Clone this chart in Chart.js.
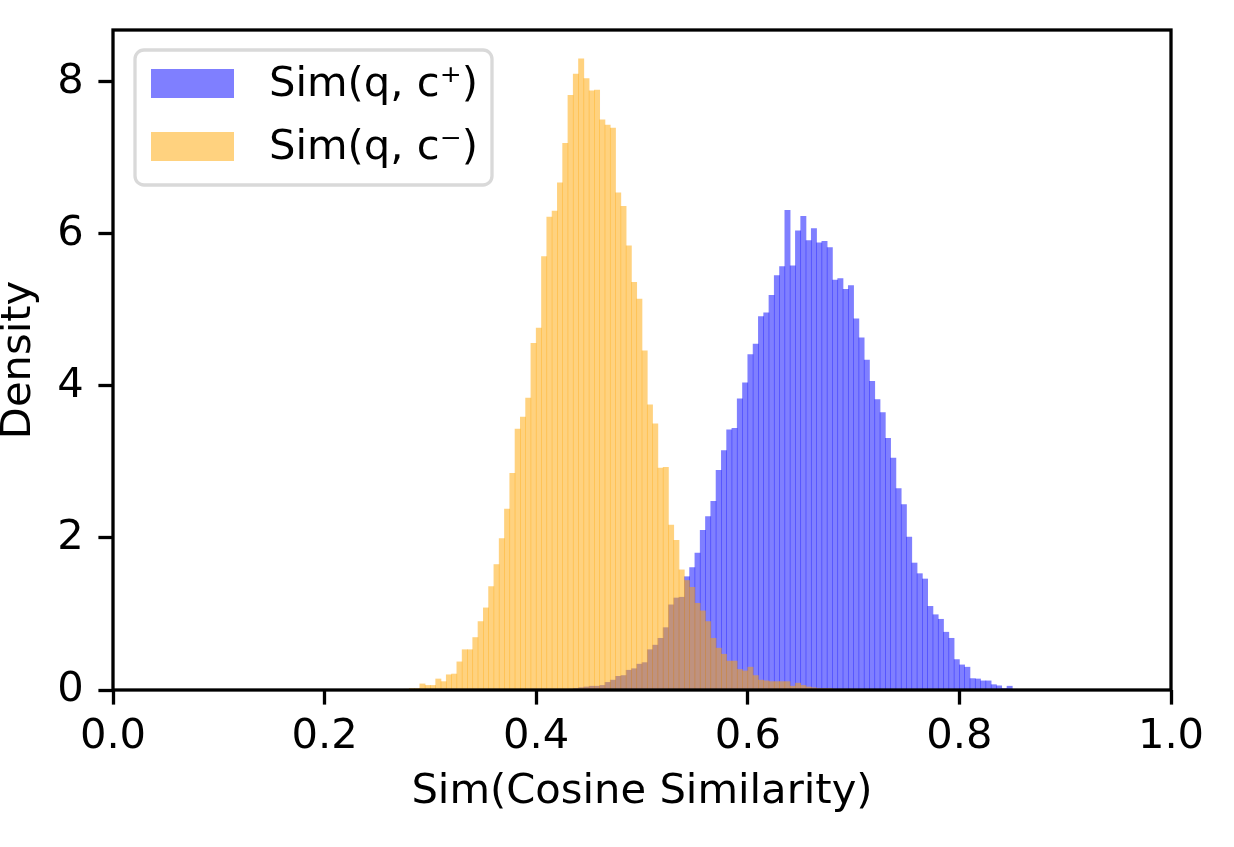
<!DOCTYPE html>
<html>
<head>
<meta charset="utf-8">
<script src="https://cdn.jsdelivr.net/npm/chart.js@4.4.0/dist/chart.umd.min.js"></script>
<style>
html, body { margin: 0; padding: 0; background: #fff; }
#wrap { width: 1234px; height: 847px; }
</style>
</head>
<body>
<div id="wrap"><canvas id="myChart"></canvas></div>
<script>
// histogram bins, width 0.005, heights
const binWidth = 0.005;

const posLabel = 'Sim(q, c\u207A)';
const posStart = 0.43;
const posDensity = [
  0.01, 0.02, 0.03, 0.04, 0.05, 0.05, 0.06, 0.10, 0.13, 0.18,
  0.19, 0.26, 0.28, 0.34, 0.36, 0.53, 0.59, 0.68, 0.82, 1.12,
  1.21, 1.22, 1.49, 1.61, 1.80, 2.10, 2.28, 2.48, 2.89, 3.15,
  3.42, 3.44, 3.83, 4.04, 4.41, 4.55, 4.91, 4.96, 5.19, 5.45,
  5.57, 6.31, 5.58, 6.04, 6.23, 5.91, 6.07, 5.88, 5.90, 5.82,
  5.39, 5.41, 5.27, 5.32, 4.88, 4.63, 4.34, 4.06, 3.82, 3.65,
  3.31, 3.05, 2.65, 2.44, 2.01, 1.67, 1.53, 1.46, 1.10, 0.99,
  0.93, 0.76, 0.68, 0.40, 0.33, 0.30, 0.15, 0.145, 0.12, 0.12,
  0.07, 0.055, 0.02, 0.05, 0.01
];

const negLabel = 'Sim(q, c\u207B)';
const negStart = 0.275;
const negDensity = [
  0.01, 0.02, 0.02, 0.08, 0.06, 0.06, 0.145, 0.11, 0.20, 0.21,
  0.37, 0.53, 0.53, 0.69, 0.90, 1.08, 1.36, 1.65, 1.99, 2.38,
  2.85, 3.43, 3.59, 3.84, 4.56, 4.76, 5.70, 6.22, 6.30, 6.67,
  7.19, 7.82, 8.10, 8.30, 8.04, 7.88, 7.89, 7.50, 7.43, 7.39,
  6.54, 6.36, 5.84, 5.36, 5.14, 4.46, 3.75, 3.50, 2.92, 2.93,
  2.17, 1.97, 1.58, 1.44, 1.35, 1.14, 1.04, 0.90, 0.68, 0.55,
  0.47, 0.38, 0.38, 0.27, 0.25, 0.30, 0.19, 0.13, 0.12, 0.11,
  0.11, 0.11, 0.11, 0.05, 0.09, 0.06, 0.04, 0.03, 0.02, 0.02,
  0.02, 0.01, 0.01, 0.01, 0.01
];

const xTicks = [0.0, 0.2, 0.4, 0.6, 0.8, 1.0];
const yTicks = [0, 2, 4, 6, 8];
const xTitle = 'Sim(Cosine Similarity)';
const yTitle = 'Density';

const toPoints = (start, heights) =>
  heights.map((h, i) => ({ x: Math.round((start + (i + 0.5) * binWidth) * 10000) / 10000, y: h }));

Chart.defaults.font.family = '"DejaVu Sans", sans-serif';
Chart.defaults.font.size = 41.67;
Chart.defaults.color = '#000';

const frameAndLegend = {
  id: 'frameAndLegend',
  afterDatasetsDraw(chart) {
    const { ctx, chartArea: a } = chart;
    ctx.save();
    ctx.strokeStyle = '#000';
    ctx.lineWidth = 3.3;
    ctx.strokeRect(a.left, a.top, a.right - a.left, a.bottom - a.top);

    // legend box, upper left
    const bx = a.left + 22, by = a.top + 20, bw = 357, bh = 135;
    ctx.beginPath();
    ctx.roundRect(bx, by, bw, bh, 9);
    ctx.fillStyle = 'rgba(255,255,255,0.8)';
    ctx.fill();
    ctx.strokeStyle = '#d9d9d9';
    ctx.lineWidth = 3.3;
    ctx.stroke();

    const sets = chart.data.datasets;
    ctx.font = '41.67px "DejaVu Sans", sans-serif';
    ctx.textBaseline = 'middle';
    ctx.textAlign = 'left';
    sets.forEach((ds, i) => {
      const cy = by + 34 + i * 63;
      ctx.fillStyle = ds.backgroundColor;
      ctx.fillRect(bx + 16, cy - 15, 83, 29);
      ctx.fillStyle = '#000';
      ctx.fillText(ds.label, bx + 134, cy + 1);
    });
    ctx.restore();
  }
};

const ctx = document.getElementById('myChart');

const data = {
  datasets: [
    {
      label: posLabel,
      data: toPoints(posStart, posDensity),
      backgroundColor: 'rgba(0, 0, 255, 0.5)',
      borderWidth: 0,
      order: 1
    },
    {
      label: negLabel,
      data: toPoints(negStart, negDensity),
      backgroundColor: 'rgba(255, 165, 0, 0.5)',
      borderWidth: 0,
      order: 0
    }
  ]
};

const config = {
  type: 'bar',
  data: data,
  options: {
    responsive: true,
    maintainAspectRatio: false,
    animation: false,
    grouped: false,
    barPercentage: 1,
    categoryPercentage: 1,
    layout: { padding: { top: 30, right: 63, left: 0, bottom: 0 } },
    plugins: {
      legend: { display: false },
      tooltip: { enabled: false }
    },
    scales: {
      x: {
        type: 'linear',
        min: 0,
        max: 1,
        offset: false,
        grid: { offset: false, drawOnChartArea: false, drawTicks: true, tickLength: 14.6, tickWidth: 3.3, tickColor: '#000' },
        border: { display: false },
        afterBuildTicks: (scale) => { scale.ticks = xTicks.map(v => ({ value: v })); },
        afterFit: (scale) => {
          scale.height = 157;
          scale.paddingLeft = 0;
          scale.paddingRight = 0;
        },
        ticks: { padding: 8, maxRotation: 0, callback: (v) => Number(v).toFixed(1) },
        title: { display: true, text: xTitle, padding: { top: 0, bottom: 30 } }
      },
      y: {
        min: 0,
        max: 8.68,
        grid: { drawOnChartArea: false, drawTicks: true, tickLength: 14.6, tickWidth: 3.3, tickColor: '#000' },
        border: { display: false },
        afterBuildTicks: (scale) => { scale.ticks = yTicks.map(v => ({ value: v })); },
        afterFit: (scale) => {
          scale.width = 113;
          scale.paddingTop = 0;
          scale.paddingBottom = 0;
        },
        ticks: { padding: 14.6, callback: (v) => String(v) },
        title: { display: true, text: yTitle, padding: { top: -6, bottom: 0 } }
      }
    }
  },
  plugins: [frameAndLegend]
};

const myChart = new Chart(ctx, config);
</script>
</body>
</html>
